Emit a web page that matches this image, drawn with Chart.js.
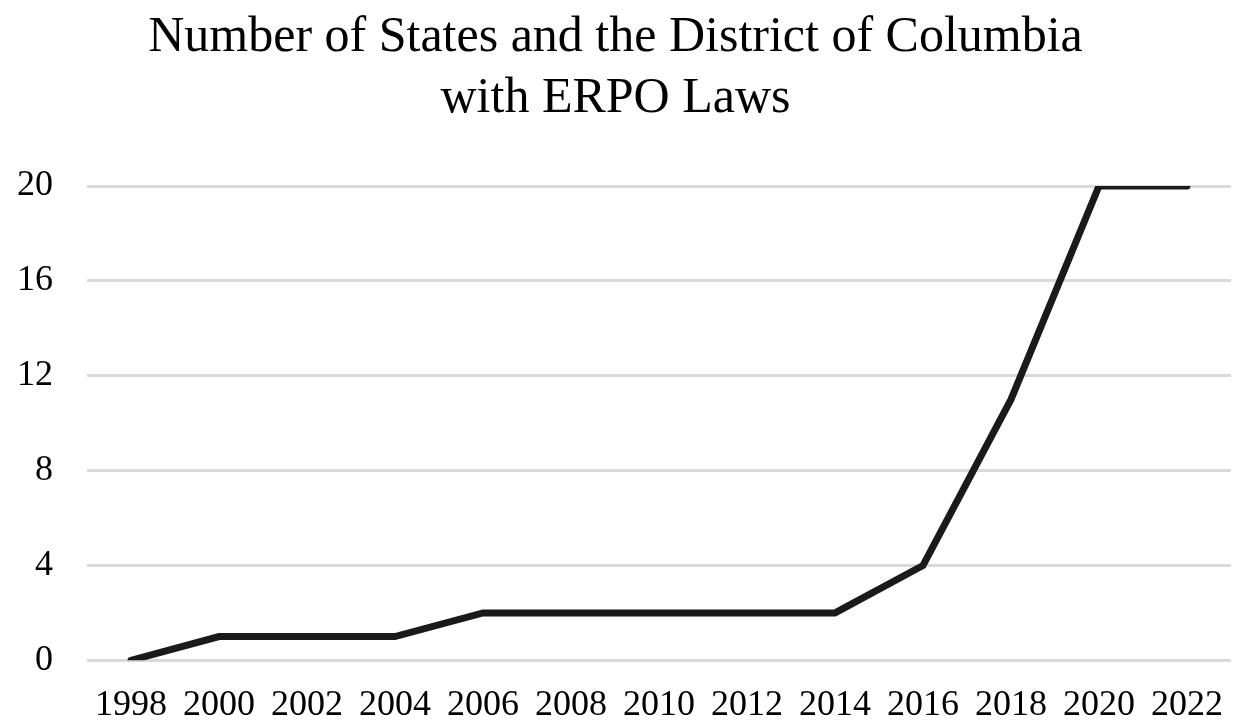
<!DOCTYPE html>
<html>
<head>
<meta charset="utf-8">
<script src="https://cdn.jsdelivr.net/npm/chart.js@4"></script>
<style>
  html, body { margin: 0; padding: 0; background: #fff; }
  #wrap { width: 1233px; height: 721px; }
</style>
</head>
<body>
<div id="wrap"><canvas id="erpo_chart" width="1233" height="721"></canvas></div>
<script>
const years = ['1998', '2000', '2002', '2004', '2006', '2008', '2010', '2012', '2014', '2016', '2018', '2020', '2022'];
const stateCounts = [0, 1, 1, 1, 2, 2, 2, 2, 2, 4, 11, 20, 20];
const yTicks = [0, 4, 8, 12, 16, 20];
const titleLines = ['Number of States and the District of Columbia', 'with ERPO Laws'];

const serif = '"Liberation Serif", "Times New Roman", serif';

const ctx = document.getElementById('erpo_chart');
new Chart(ctx, {
  type: 'line',
  data: {
    labels: years,
    datasets: [{
      label: 'States + DC',
      data: stateCounts,
      borderColor: '#1a1a1a',
      borderWidth: 7,
      pointRadius: 0,
      tension: 0,
      borderJoinStyle: 'miter',
      borderCapStyle: 'round',
      fill: false
    }]
  },
  options: {
    responsive: false,
    animation: false,
    layout: { padding: { left: 0, right: 2, top: 7, bottom: 0 } },
    plugins: {
      legend: { display: false },
      tooltip: { enabled: false },
      title: {
        display: true,
        text: titleLines,
        color: '#000',
        font: { family: serif, size: 50, weight: 'normal', lineHeight: 1.22 },
        padding: { top: 0, bottom: 57 }
      }
    },
    scales: {
      x: {
        offset: true,
        // tick marks hidden, tickLength only used as spacing under the plot
        grid: { display: false, drawTicks: true, tickLength: 30 },
        border: { display: false },
        ticks: {
          color: '#000',
          font: { family: serif, size: 36, lineHeight: 0.63 },
          maxRotation: 0,
          autoSkip: false,
          padding: 4
        }
      },
      y: {
        min: 0,
        max: 20,
        afterBuildTicks: axis => { axis.ticks = yTicks.map(v => ({ value: v })); },
        afterFit: axis => { axis.width = 87; },
        grid: { color: '#d9d9d9', lineWidth: 3, drawTicks: false },
        border: { display: false },
        ticks: {
          color: '#000',
          font: { family: serif, size: 36 },
          padding: 34
        }
      }
    }
  }
});
</script>
</body>
</html>
